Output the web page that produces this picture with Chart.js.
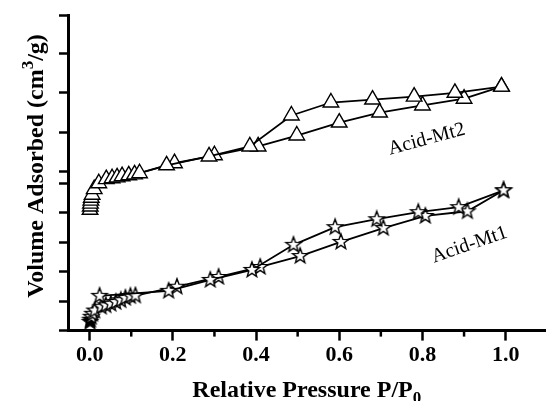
<!DOCTYPE html>
<html>
<head>
<meta charset="utf-8">
<script src="https://cdn.jsdelivr.net/npm/chart.js@4.4.0/dist/chart.umd.min.js"></script>
<style>
  html, body { margin: 0; padding: 0; background: #fff; }
  canvas { display: block; }
</style>
</head>
<body>
<canvas id="iso-chart" width="556" height="401"></canvas>
<script>
// N2 isotherms, relative pressure P/P0 vs adsorbed volume (arbitrary offset units)
const mt2AdsP = [0.001, 0.0015, 0.002, 0.003, 0.004, 0.006, 0.011, 0.022, 0.04, 0.054, 0.066, 0.078, 0.094, 0.108, 0.204, 0.30, 0.405, 0.498, 0.60, 0.697, 0.80, 0.90, 0.99];
const mt2AdsV = [41.0, 42.1, 43.1, 44.1, 45.1, 46.1, 48.0, 50.0, 51.4, 51.7, 52.0, 52.4, 52.7, 53.0, 56.8, 59.5, 62.5, 66.2, 70.6, 74.0, 76.4, 78.7, 82.8];
const mt2DesP = [0.99, 0.878, 0.78, 0.68, 0.58, 0.485, 0.385, 0.287, 0.185, 0.12];
const mt2DesV = [82.8, 80.7, 79.4, 78.4, 77.4, 73.0, 62.5, 59.1, 56.1, 53.4];

const mt1AdsP = [0.001, 0.002, 0.004, 0.007, 0.012, 0.028, 0.039, 0.051, 0.063, 0.075, 0.086, 0.098, 0.11, 0.21, 0.31, 0.41, 0.506, 0.604, 0.706, 0.807, 0.908, 0.995];
const mt1AdsV = [3.0, 3.7, 4.7, 5.7, 6.8, 8.1, 8.6, 9.1, 9.7, 10.3, 11.1, 11.7, 11.9, 14.9, 18.2, 21.6, 25.3, 30.1, 34.8, 38.9, 40.5, 47.6];
const mt1DesP = [0.995, 0.887, 0.79, 0.69, 0.59, 0.49, 0.39, 0.29, 0.19, 0.024];
const mt1DesV = [47.6, 41.9, 40.2, 37.8, 35.1, 29.1, 20.6, 17.2, 13.5, 11.8];

const xTicks = [0, 0.2, 0.4, 0.6, 0.8, 1.0];
const xMinorTicks = [0.1, 0.3, 0.5, 0.7, 0.9];
const yTicks = [0, 10, 20, 30, 40, 50, 54.1, 67.3, 80.7, 94.0, 107.1];

const seriesNames = ['Acid-Mt2', 'Acid-Mt1'];
const nameP = [0.81, 0.913];
const nameV = [64.9, 29.1];
const nameAngle = [-15, -19];

const serif = '"Liberation Serif", "Times New Roman", serif';

function pts(xs, ys) {
  return xs.map((x, i) => ({ x: x, y: ys[i] }));
}

// five-point star used as marker
function starImage(fill) {
  const c = document.createElement('canvas');
  c.width = 20; c.height = 20;
  const g = c.getContext('2d');
  g.beginPath();
  for (let i = 0; i < 10; i++) {
    const r = i % 2 ? 3.3 : 8;
    const a = -Math.PI / 2 + i * Math.PI / 5;
    g.lineTo(10 + r * Math.cos(a), 10 + r * Math.sin(a));
  }
  g.closePath();
  g.fillStyle = fill;
  g.fill();
  g.lineWidth = 1.4;
  g.strokeStyle = '#000';
  g.stroke();
  return c;
}
const openStar = starImage('#fff');
const blackStar = starImage('#000');

const lineStyle = {
  borderColor: '#000',
  borderWidth: 1.8,
  tension: 0,
  pointBorderColor: '#000',
  pointBackgroundColor: '#fff',
  pointBorderWidth: 1.4
};

function tickSetter(list) {
  return function(scale) {
    scale.ticks = list.map(v => ({ value: v }));
  };
}

// minor x ticks, axis titles and the series names
const annotate = {
  id: 'annotate',
  afterDraw(chart) {
    const ctx = chart.ctx;
    const x = chart.scales.x, y = chart.scales.y;
    ctx.save();
    ctx.strokeStyle = '#000';
    ctx.lineWidth = 2.5;
    for (const v of xMinorTicks) {
      const px = x.getPixelForValue(v);
      ctx.beginPath();
      ctx.moveTo(px, y.bottom);
      ctx.lineTo(px, y.bottom + 6);
      ctx.stroke();
    }

    ctx.fillStyle = '#000';
    ctx.textBaseline = 'alphabetic';

    // y title with superscript
    const big = 'bold 24px ' + serif, small = 'bold 17px ' + serif;
    const yParts = [['Volume Adsorbed (cm', big, 0], ['3', small, -10], ['/g)', big, 0]];
    ctx.save();
    ctx.translate(43, 166);
    ctx.rotate(-Math.PI / 2);
    let total = 0;
    for (const p of yParts) { ctx.font = p[1]; total += ctx.measureText(p[0]).width; }
    let cx = -total / 2;
    for (const p of yParts) {
      ctx.font = p[1];
      ctx.fillText(p[0], cx, p[2]);
      cx += ctx.measureText(p[0]).width;
    }
    ctx.restore();

    // x title with subscript
    const xParts = [['Relative Pressure P/P', big, 0], ['0', small, 6]];
    total = 0;
    for (const p of xParts) { ctx.font = p[1]; total += ctx.measureText(p[0]).width; }
    cx = (x.left + x.right) / 2 - total / 2;
    for (const p of xParts) {
      ctx.font = p[1];
      ctx.fillText(p[0], cx, 397 + p[2]);
      cx += ctx.measureText(p[0]).width;
    }

    // series names along the curves
    ctx.font = '20px ' + serif;
    ctx.textAlign = 'center';
    ctx.textBaseline = 'middle';
    seriesNames.forEach((name, i) => {
      ctx.save();
      ctx.translate(x.getPixelForValue(nameP[i]), y.getPixelForValue(nameV[i]));
      ctx.rotate(nameAngle[i] * Math.PI / 180);
      ctx.fillText(name, 0, 0);
      ctx.restore();
    });
    ctx.restore();
  }
};

new Chart(document.getElementById('iso-chart'), {
  type: 'line',
  data: {
    datasets: [
      Object.assign({
        label: 'Acid-Mt2 desorption',
        data: pts(mt2DesP, mt2DesV),
        pointStyle: 'triangle',
        pointRadius: 9
      }, lineStyle),
      Object.assign({
        label: 'Acid-Mt2 adsorption',
        data: pts(mt2AdsP, mt2AdsV),
        pointStyle: 'triangle',
        pointRadius: 9
      }, lineStyle),
      Object.assign({
        label: 'Acid-Mt1 desorption',
        data: pts(mt1DesP, mt1DesV),
        pointStyle: openStar
      }, lineStyle),
      Object.assign({
        label: 'Acid-Mt1 adsorption',
        data: pts(mt1AdsP, mt1AdsV),
        pointStyle: c => c.dataIndex < 2 ? blackStar : openStar
      }, lineStyle)
    ]
  },
  options: {
    responsive: false,
    animation: false,
    layout: { padding: { left: 59, top: 15, right: 0, bottom: 30 } },
    plugins: {
      legend: { display: false },
      tooltip: { enabled: false }
    },
    scales: {
      x: {
        type: 'linear',
        min: -0.052,
        max: 1.096,
        afterBuildTicks: tickSetter(xTicks),
        ticks: {
          callback: v => v.toFixed(1),
          font: { family: serif, size: 22, weight: 'bold' },
          color: '#000',
          padding: 2,
          maxRotation: 0,
          autoSkip: false
        },
        grid: { drawOnChartArea: false, tickLength: 10, tickWidth: 2.5, tickColor: '#000' },
        border: { color: '#000', width: 3 }
      },
      y: {
        type: 'linear',
        min: 0,
        max: 107.1,
        afterBuildTicks: tickSetter(yTicks),
        ticks: { display: false },
        grid: { drawOnChartArea: false, tickLength: 9, tickWidth: 2.5, tickColor: '#000' },
        border: { color: '#000', width: 3 }
      }
    }
  },
  plugins: [annotate]
});
</script>
</body>
</html>
